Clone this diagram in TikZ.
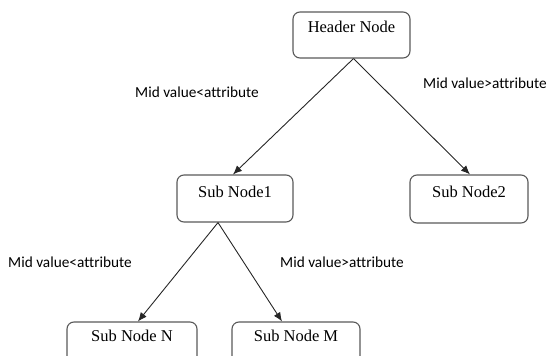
\documentclass[tikz,border=0pt]{standalone}
\usepackage{fontspec}
\setmainfont{Liberation Serif}
\newfontfamily\lblfont[Ligatures={NoCommon,NoRare}]{Carlito}
\usetikzlibrary{arrows.meta}
\begin{document}
\begin{tikzpicture}[x=1pt,y=-1pt,
  box/.style={draw=black!65, line width=1.1pt, rounded corners=7pt, inner sep=0pt,
    font=\fontsize{16.5}{19}\selectfont, anchor=base},
  lbl/.style={font=\lblfont\fontsize{15.3}{18}\selectfont, anchor=base west, inner sep=0pt},
  arr/.style={draw=black!85, line width=0.9pt, -{Latex[length=9pt,width=7.5pt]}}]
\useasboundingbox (0,0) rectangle (552,356);
\node[box, minimum width=117pt, text height=20pt, text depth=26pt] (h) at (351.5,32) {Header Node};
\node[box, minimum width=116pt, text height=22pt, text depth=25pt] (s1) at (235,197) {Sub Node1};
\node[box, minimum width=118pt, text height=22pt, text depth=26pt] (s2) at (469,197) {Sub Node2};
\node[box, minimum width=130pt, text height=19pt, text depth=30pt] (sn) at (132,341) {Sub Node N};
\node[box, minimum width=128pt, text height=19pt, text depth=30pt] (sm) at (296,341) {Sub Node M};
\draw[arr] ([xshift=2pt]h.south) -- ([xshift=-2pt]s1.north);
\draw[arr] ([xshift=2pt]h.south) -- ([xshift=1pt]s2.north);
\draw[arr] ([xshift=-17pt]s1.south) -- ([xshift=6pt]sn.north);
\draw[arr] ([xshift=-17pt]s1.south) -- ([xshift=-14pt]sm.north);
\node[lbl] (l1) at (135,97) {Mid value<attribute};
\node[lbl] (l2) at (423,88) {Mid value>attribute};
\node[lbl] (l3) at (8,267) {Mid value<attribute};
\node[lbl] (l4) at (280,267) {Mid value>attribute};
\end{tikzpicture}
\end{document}
